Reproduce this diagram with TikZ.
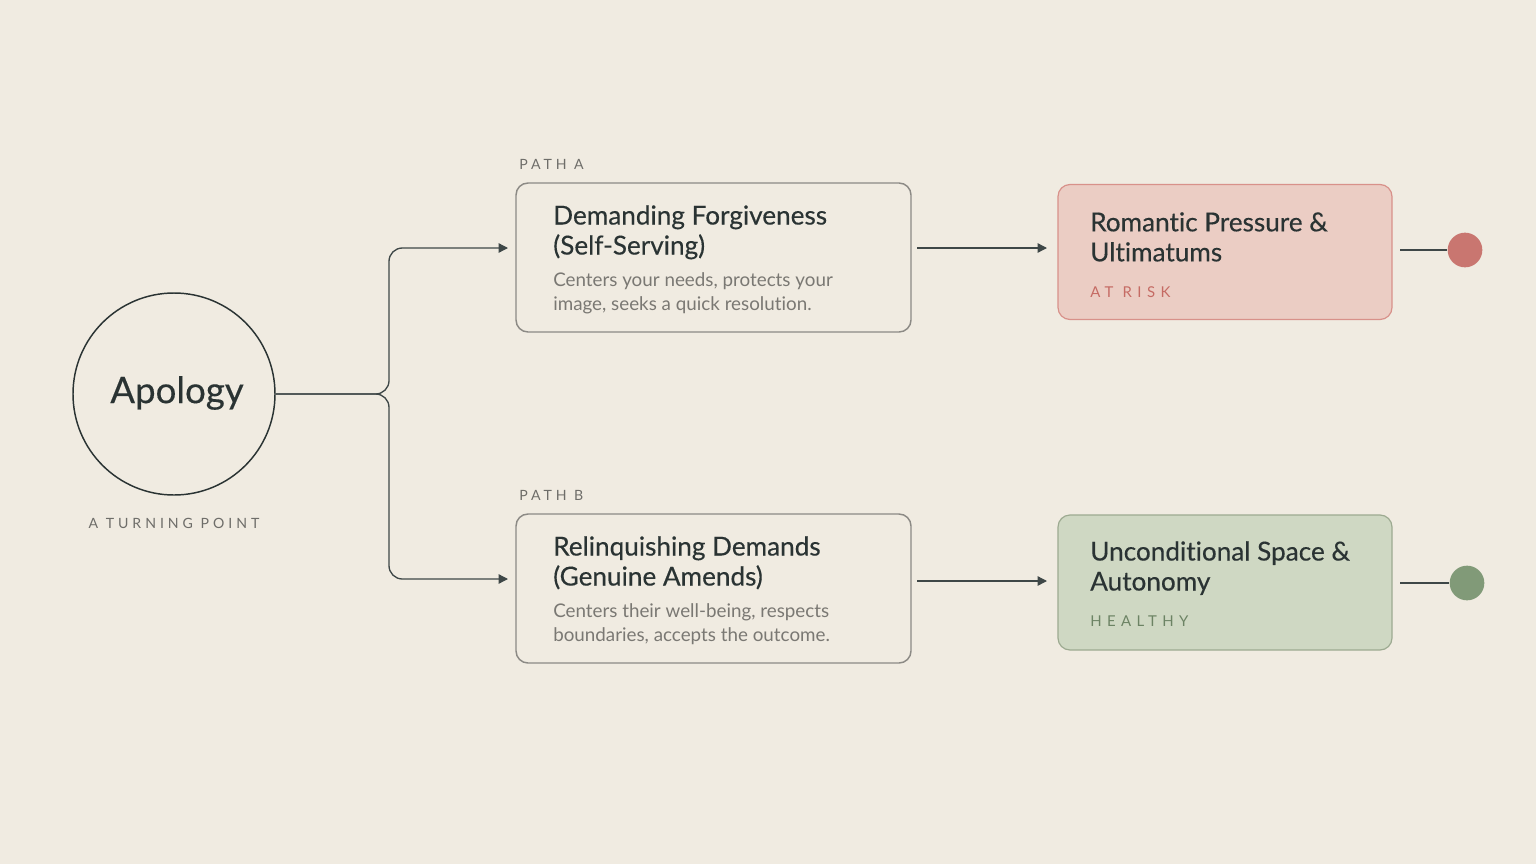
\documentclass[tikz,border=0pt]{standalone}
\usepackage{fontspec}
\setmainfont{Lato}[Ligatures=NoCommon]
\newfontfamily\spaced{Lato}[LetterSpace=28,Ligatures=NoCommon]
\newfontfamily\spacedw{Lato}[LetterSpace=36,Ligatures=NoCommon]
\newfontfamily\medium{Lato}[FakeBold=0.35,Ligatures=NoCommon]
\usetikzlibrary{arrows.meta,positioning}
\definecolor{bg}{HTML}{F0EBE1}
\definecolor{ink}{HTML}{2A3333}
\definecolor{linec}{HTML}{3E4747}
\definecolor{boxline}{HTML}{8C8A85}
\definecolor{desc}{HTML}{7A7873}
\definecolor{lab}{HTML}{6E6D69}
\definecolor{redfill}{HTML}{EBCDC4}
\definecolor{redline}{HTML}{D8918A}
\definecolor{redtxt}{HTML}{C56B64}
\definecolor{reddot}{HTML}{C97670}
\definecolor{grnfill}{HTML}{CFD8C3}
\definecolor{grnline}{HTML}{9DAA91}
\definecolor{grntxt}{HTML}{6C8364}
\definecolor{grndot}{HTML}{819A78}
\tikzset{
  pathbox/.style={draw=boxline, line width=1.1pt, rounded corners=9pt, fill=bg, minimum width=296.25pt, minimum height=111.75pt, inner sep=0pt},
  outbox/.style={line width=0.9pt, rounded corners=9pt, minimum width=250.5pt, minimum height=101pt, inner sep=0pt},
  conn/.style={draw=linec, line width=1pt, -{Triangle[length=7pt,width=7pt]}},
  plain/.style={draw=linec, line width=1pt},
  ttl/.style={anchor=north west, align=left, text=ink, font=\medium\fontsize{19.6}{22.5}\selectfont, inner sep=0pt},
  dsc/.style={anchor=north west, align=left, text=desc, font=\fontsize{14.1}{18}\selectfont, inner sep=0pt},
  small/.style={anchor=west, inner sep=0pt, font=\spaced\fontsize{10.6}{12}\selectfont},
  smallw/.style={anchor=west, inner sep=0pt, font=\spacedw\fontsize{11.2}{12}\selectfont},
}
\begin{document}
\begin{tikzpicture}[x=0.75pt,y=-0.75pt]
\fill[bg] (0,0) rectangle (1536,864);
\useasboundingbox (0,0) rectangle (1536,864);

% Apology
\node[circle, draw=ink, line width=1.1pt, minimum size=151.5pt, inner sep=0pt] (apo) at (174,394) {};
\node[text=ink, font=\medium\fontsize{27.5}{30}\selectfont, inner sep=0pt] (apot) at (177,393) {Apology};
\node[small, anchor=center, text=lab] (turn) at (174,523) {A TURNING POINT};

% Path boxes
\node[pathbox] (boxA) at (713.5,257.5) {};
\node[small, text=lab] (pa) at (519,164) {PATH A};
\node[ttl] (ta) at (553,205) {Demanding Forgiveness\\(Self-Serving)};
\node[dsc] (da) at (553,272) {Centers your needs, protects your\\image, seeks a quick resolution.};

\node[pathbox] (boxB) at (713.5,588.5) {};
\node[small, text=lab] (pb) at (519,495) {PATH B};
\node[ttl] (tb) at (553,536) {Relinquishing Demands\\(Genuine Amends)};
\node[dsc] (db) at (553,603) {Centers their well-being, respects\\boundaries, accepts the outcome.};

% Outcome boxes
\node[outbox, draw=redline, fill=redfill, minimum height=101.25pt] (boxR) at (1225,252) {};
\node[ttl] (tr) at (1090,212) {Romantic Pressure \&\\Ultimatums};
\node[smallw, text=redtxt] (rr) at (1090,292) {AT RISK};

\node[outbox, draw=grnline, fill=grnfill, minimum height=101.25pt] (boxG) at (1225,582.5) {};
\node[ttl] (tg) at (1090,541) {Unconditional Space \&\\Autonomy};
\node[smallw, text=grntxt] (hg) at (1090,621) {HEALTHY};

% dots
\node[circle, fill=reddot, minimum size=26pt, inner sep=0pt] (dr) at (1465,250) {};
\node[circle, fill=grndot, minimum size=26pt, inner sep=0pt] (dg) at (1467,583) {};

% connector coordinates
\coordinate (aIn) at (508,248);
\coordinate (bIn) at (508,579);
\coordinate (aOut) at (917,248);
\coordinate (bOut) at (917,581);
\coordinate (rIn) at (1047,248);
\coordinate (gIn) at (1047,581);
\coordinate (rOut) at (1400,250);
\coordinate (gOut) at (1400,583);

\draw[conn, rounded corners=10pt] (apo.east) -- (389,394) -- (389,248) -- (aIn);
\draw[conn, rounded corners=10pt] (apo.east) -- (389,394) -- (389,579) -- (bIn);
\draw[conn] (aOut) -- (rIn);
\draw[conn] (bOut) -- (gIn);
\draw[plain] (rOut) -- (dr.west);
\draw[plain] (gOut) -- (dg.west);
\end{tikzpicture}
\end{document}
